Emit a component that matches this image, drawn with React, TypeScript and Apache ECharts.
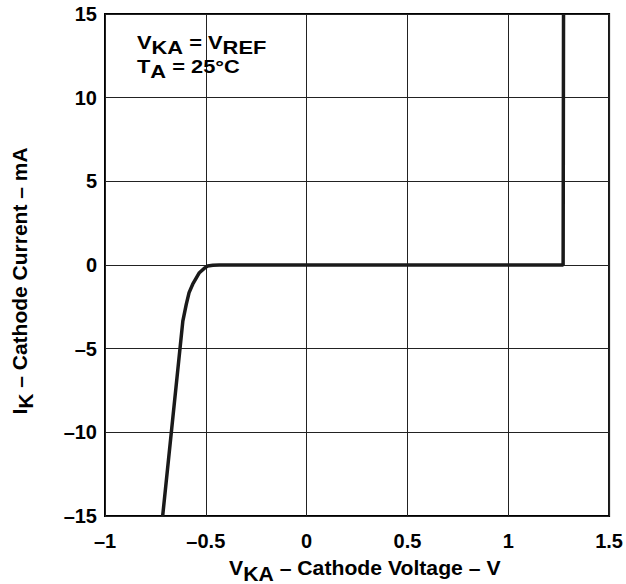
import React, { useEffect, useRef } from "react";
import * as echarts from "echarts";

const voltage = [-0.714, -0.614, -0.597, -0.583, -0.565, -0.532, -0.505, -0.491, -0.465, -0.433, 1.272, 1.274];
const current = [-15, -3.35, -2.35, -1.65, -1.15, -0.46, -0.17, -0.06, -0.01, 0, 0, 15];
const xTicks = { min: -1, max: 1.5, interval: 0.5 };
const yTicks = { min: -15, max: 15, interval: 5 };

const fmt = (v: number) => (v < 0 ? "\u2013" + Math.abs(v) : String(v));
const FONT = "Liberation Sans, Arial, sans-serif";

export default function App() {
  const ref = useRef<HTMLDivElement>(null);
  useEffect(() => {
    const chart = echarts.init(ref.current!, null, { renderer: "svg" });
    const mk = (size: number, pad: number) => ({
      m: { fontSize: size, fontWeight: "bold", fontFamily: FONT, color: "#000" },
      s: { fontSize: size, fontWeight: "bold", fontFamily: FONT, color: "#000", padding: [pad, 0, 0, 0] },
    });
    const richTitle = mk(20, 11);
    const richNote = mk(19, 10);
    chart.setOption({
      animation: false,
      backgroundColor: "#fff",
      grid: { left: 105, right: 14, top: 14, bottom: 68, show: true, borderColor: "#000", borderWidth: 2 },
      xAxis: {
        type: "value",
        ...xTicks,
        axisLine: { show: false },
        axisTick: { show: false },
        splitLine: { show: true, lineStyle: { color: "#222", width: 1 } },
        axisLabel: { formatter: fmt, color: "#000", fontSize: 20, fontWeight: "bold", fontFamily: FONT, margin: 15 },
      },
      yAxis: {
        type: "value",
        ...yTicks,
        axisLine: { show: false },
        axisTick: { show: false },
        splitLine: { show: true, lineStyle: { color: "#222", width: 1 } },
        axisLabel: { formatter: fmt, color: "#000", fontSize: 20, fontWeight: "bold", fontFamily: FONT, margin: 8 },
      },
      series: [
        {
          type: "line",
          data: voltage.map((v, i) => [v, current[i]]),
          showSymbol: false,
          lineStyle: { color: "#1a1a1a", width: 3.5 },
          z: 5,
        },
      ],
      graphic: [
        {
          type: "text",
          x: 137,
          y: 42,
          scaleX: 1.15,
          z: 10,
          style: { text: "{m|V}{s|KA}{m| = V}{s|REF}", rich: richNote, fill: "#000", align: "left", verticalAlign: "middle" },
        },
        {
          type: "text",
          x: 137,
          y: 66,
          scaleX: 1.15,
          z: 10,
          style: { text: "{m|T}{s|A}{m| = 25°C}", rich: richNote, fill: "#000", align: "left", verticalAlign: "middle" },
        },
        {
          type: "text",
          x: 229,
          y: 568,
          scaleX: 1.06,
          style: { text: "{m|V}{s|KA}{m| – Cathode Voltage – V}", rich: richTitle, fill: "#000", align: "left", verticalAlign: "middle" },
        },
        {
          type: "text",
          x: 20,
          y: 281,
          rotation: Math.PI / 2,
          scaleX: 1.05,
          style: { text: "{m|I}{s|K}{m| – Cathode Current – mA}", rich: richTitle, fill: "#000", align: "center", verticalAlign: "middle" },
        },
      ],
    });
    return () => chart.dispose();
  }, []);
  return <div ref={ref} style={{ position: "fixed", left: 0, top: 0, width: 626, height: 584 }} />;
}
